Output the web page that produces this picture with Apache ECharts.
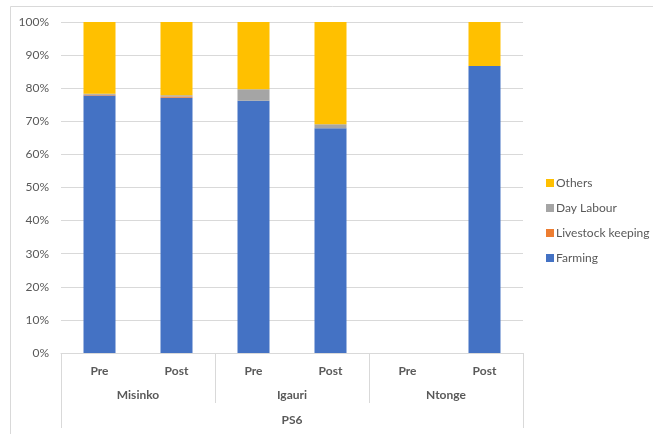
<!DOCTYPE html>
<html><head><meta charset="utf-8">
<script src="https://cdn.jsdelivr.net/npm/echarts@6/dist/echarts.min.js"></script>
<style>html,body{margin:0;padding:0;background:#fff}#c{width:653px;height:434px}</style>
</head><body><div id="c"></div>
<script>
const periods = ['Pre','Post','Pre','Post','Pre','Post'];
const villages = ['Misinko','Igauri','Ntonge'];
const region = ['PS6'];
const farming   = [77.8, 77.1, 76.2, 67.9, null, 86.7];
const livestock = [0.2, 0.4, 0, 0, null, 0];
const dayLabour = [0.3, 0.4, 3.5, 1.2, null, 0];
const others    = [21.7, 22.1, 20.3, 30.9, null, 13.3];
const yTicks = [0,10,20,30,40,50,60,70,80,90,100];

const font = 'Lato, "Open Sans", sans-serif';
const chart = echarts.init(document.getElementById('c'), null, {renderer:'canvas'});
function bar(name, data, color){
  return {name, type:'bar', stack:'s', data, barWidth:32, itemStyle:{color}, xAxisIndex:0};
}
chart.setOption({
  animation:false,
  textStyle:{fontFamily:font},
  graphic:[{type:'rect', shape:{x:10.5,y:6.5,width:680,height:440}, style:{fill:'none', stroke:'#d9d9d9', lineWidth:1}, silent:true}],
  grid:{left:61,right:130,top:22,bottom:81},
  legend:{
    orient:'vertical', left:541, top:172, itemGap:13, itemWidth:8, itemHeight:8,
    icon:'rect', data:['Others','Day Labour','Livestock keeping','Farming'],
    textStyle:{color:'#595959', fontSize:12, fontFamily:font, padding:[0,0,0,-3]}
  },
  xAxis:[
    {type:'category', data:periods, position:'bottom',
      axisLine:{lineStyle:{color:'#d9d9d9'}}, axisTick:{show:false},
      axisLabel:{color:'#595959', fontSize:12, fontWeight:'bold', margin:12, fontFamily:font}},
    {type:'category', data:villages, position:'bottom',
      axisLine:{show:false}, axisTick:{show:true, length:50, lineStyle:{color:'#d9d9d9'}},
      axisLabel:{color:'#595959', fontSize:12, fontWeight:'bold', margin:36, fontFamily:font}},
    {type:'category', data:region, position:'bottom',
      axisLine:{show:false}, axisTick:{show:true, length:75, lineStyle:{color:'#d9d9d9'}},
      axisLabel:{color:'#595959', fontSize:12, fontWeight:'bold', margin:61, fontFamily:font}}
  ],
  yAxis:{type:'value', min:0, max:100, interval:10,
    axisLine:{show:false}, axisTick:{show:false},
    splitLine:{lineStyle:{color:'#d9d9d9'}},
    axisLabel:{color:'#595959', fontSize:12, margin:12, fontFamily:font,
      formatter:function(v){return yTicks.indexOf(v)>=0? v+'%':'';}}},
  series:[
    bar('Farming', farming, '#4472C4'),
    bar('Livestock keeping', livestock, '#ED7D31'),
    bar('Day Labour', dayLabour, '#A5A5A5'),
    bar('Others', others, '#FFC000')
  ]
});
</script></body></html>
